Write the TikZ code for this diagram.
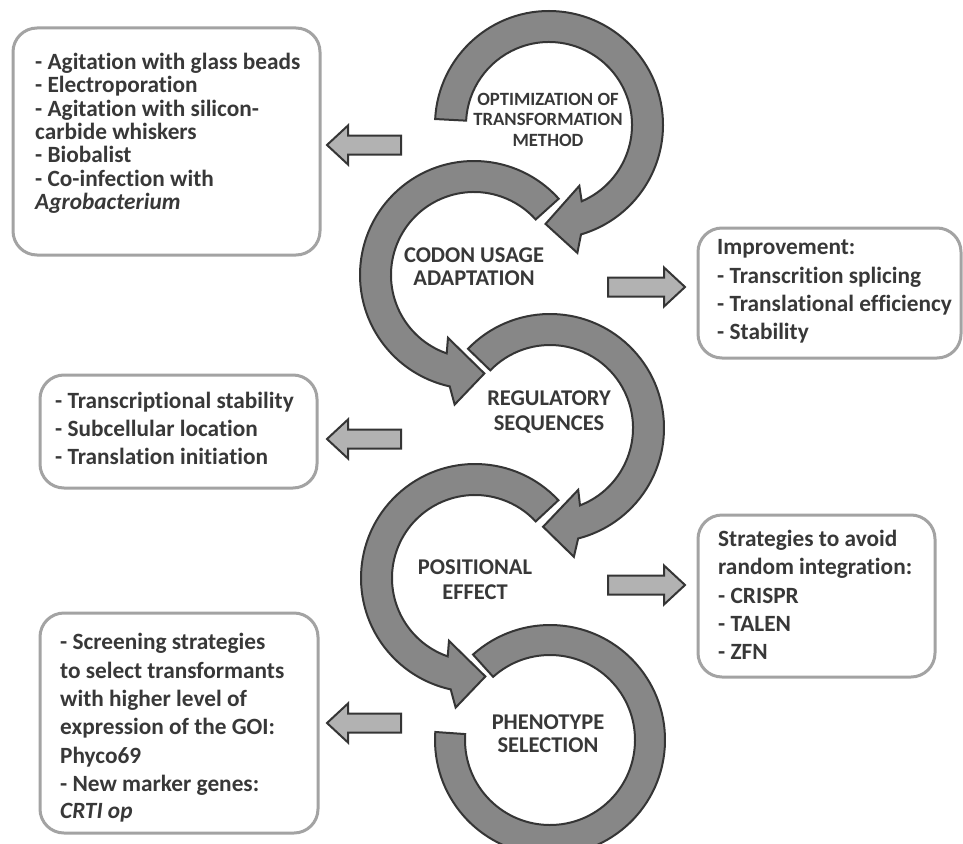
\documentclass[tikz,border=0pt]{standalone}
\usepackage{fontspec}
\setmainfont{Carlito}[RawFeature={-liga;-clig;-calt;-dlig}]
\definecolor{ringgray}{HTML}{878787}
\definecolor{arrowgray}{HTML}{B2B2B2}
\definecolor{edgegray}{HTML}{353535}
\definecolor{boxgray}{HTML}{A3A3A3}
\definecolor{textgray}{HTML}{383838}
\begin{document}
\begin{tikzpicture}[x=1pt,y=1pt,
  ringshape/.style={fill=ringgray, draw=edgegray, line width=2pt, line join=miter},
  blockarrow/.style={fill=arrowgray, draw=edgegray, line width=2pt, line join=miter},
  infobox/.style={draw=boxgray, line width=3pt, rounded corners=24pt, fill=white},
  boxtext/.style={anchor=base west, inner sep=0pt, text=textgray, font=\fontsize{23.3}{28}\selectfont\bfseries},
  ringtext/.style={anchor=base, inner sep=0pt, text=textgray, font=\fontsize{22.5}{24}\selectfont\bfseries},
  ringtextsmall/.style={anchor=base, inner sep=0pt, text=textgray, font=\fontsize{18.7}{20}\selectfont\bfseries}]
\fill[white] (0,0) rectangle (963,-843);
\useasboundingbox (0,0) rectangle (963,-843);

% ---- ring 1 (clockwise)
\begin{scope}[shift={(549,-125)}]
\draw[ringshape] (177:114) arc[start angle=177, end angle=-73.7, radius=114]
  -- (-77.5:131) -- (-92:99) -- (-63.5:68) -- (-66.8:83)
  arc[start angle=-66.8, end angle=177, radius=83] -- cycle;
\end{scope}
% ---- ring 2 (counter-clockwise)
\begin{scope}[shift={(474,-275)}]
\draw[ringshape] (42:114) arc[start angle=42, end angle=257.7, radius=114]
  -- (261.5:131) -- (276:99) -- (247.5:68) -- (250.8:83)
  arc[start angle=250.8, end angle=42, radius=83] -- cycle;
\end{scope}
% ---- ring 3 (clockwise)
\begin{scope}[shift={(550,-428)}]
\draw[ringshape] (136:114) arc[start angle=136, end angle=-75.7, radius=114]
  -- (-79.5:131) -- (-94:99) -- (-65.5:68) -- (-68.8:83)
  arc[start angle=-68.8, end angle=136, radius=83] -- cycle;
\end{scope}
% ---- ring 4 (counter-clockwise)
\begin{scope}[shift={(475,-578)}]
\draw[ringshape] (43:114) arc[start angle=43, end angle=257.7, radius=114]
  -- (261.5:131) -- (276:99) -- (247.5:68) -- (250.8:83)
  arc[start angle=250.8, end angle=43, radius=83] -- cycle;
\end{scope}
% ---- ring 5 (no head)
\begin{scope}[shift={(550,-740)}]
\draw[ringshape] (176:115) arc[start angle=176, end angle=492, radius=115]
  -- (492:85) arc[start angle=492, end angle=176, radius=85] -- cycle;
\end{scope}

% ---- ring labels
\node[ringtextsmall] (r1a) at (548,-105) {OPTIMIZATION OF};
\node[ringtextsmall] (r1b) at (548,-125) {TRANSFORMATION};
\node[ringtextsmall] (r1c) at (548,-146) {METHOD};
\node[ringtext] (r2a) at (474,-262) {CODON USAGE};
\node[ringtext] (r2b) at (474,-285) {ADAPTATION};
\node[ringtext] (r3a) at (549,-405) {REGULATORY};
\node[ringtext] (r3b) at (549,-430) {SEQUENCES};
\node[ringtext] (r4a) at (475,-574) {POSITIONAL};
\node[ringtext] (r4b) at (475,-599) {EFFECT};
\node[ringtext] (r5a) at (548,-729) {PHENOTYPE};
\node[ringtext] (r5b) at (548,-752) {SELECTION};

% ---- block arrows
\foreach \cy in {145,439,723}{
  \draw[blockarrow] (401,-\cy+9.5) -- (348,-\cy+9.5) -- (348,-\cy+19.5) -- (327,-\cy)
    -- (348,-\cy-19.5) -- (348,-\cy-9.5) -- (401,-\cy-9.5) -- cycle;
}
\foreach \cy in {287,585}{
  \draw[blockarrow] (608,-\cy+9.5) -- (664,-\cy+9.5) -- (664,-\cy+19.5) -- (685,-\cy)
    -- (664,-\cy-19.5) -- (664,-\cy-9.5) -- (608,-\cy-9.5) -- cycle;
}

% ---- boxes
\draw[infobox] (13,-28) rectangle (320,-255);
\draw[infobox] (698,-228) rectangle (961,-358);
\draw[infobox] (40,-375) rectangle (317,-488);
\draw[infobox] (698,-515) rectangle (935,-677);
\draw[infobox] (40,-613) rectangle (318,-833);

% box 1
\node[boxtext] (b1a) at (35,-69.5) {- Agitation with glass beads};
\node[boxtext] (b1b) at (35,-92.8) {- Electroporation};
\node[boxtext] (b1c) at (35,-116.1) {- Agitation with silicon-};
\node[boxtext] (b1d) at (35,-139.4) {carbide whiskers};
\node[boxtext] (b1e) at (35,-162.7) {- Biobalist};
\node[boxtext] (b1f) at (35,-186) {- Co-infection with};
\node[boxtext] (b1g) at (35,-209.3) {\itshape Agrobacterium};
% box 2
\node[boxtext] (b2a) at (717,-254.5) {Improvement:};
\node[boxtext] (b2b) at (717,-283.5) {- Transcrition splicing};
\node[boxtext] (b2c) at (717,-311.5) {- Translational efficiency};
\node[boxtext] (b2d) at (717,-339.5) {- Stability};
% box 3
\node[boxtext] (b3a) at (55,-408.5) {- Transcriptional stability};
\node[boxtext] (b3b) at (55,-436.5) {- Subcellular location};
\node[boxtext] (b3c) at (55,-464.5) {- Translation initiation};
% box 4
\node[boxtext] (b4a) at (718,-546.5) {Strategies to avoid};
\node[boxtext] (b4b) at (718,-574.5) {random integration:};
\node[boxtext] (b4c) at (718,-603.5) {- CRISPR};
\node[boxtext] (b4d) at (718,-631.5) {- TALEN};
\node[boxtext] (b4e) at (718,-659.5) {- ZFN};
% box 5
\node[boxtext] (b5a) at (60,-649.5) {- Screening strategies};
\node[boxtext] (b5b) at (60,-678.5) {to select transformants};
\node[boxtext] (b5c) at (60,-706.5) {with higher level of};
\node[boxtext] (b5d) at (60,-734.5) {expression of the GOI:};
\node[boxtext] (b5e) at (60,-763.5) {Phyco69};
\node[boxtext] (b5f) at (60,-791.5) {- New marker genes:};
\node[boxtext] (b5g) at (60,-818.5) {\itshape CRTI op};
\end{tikzpicture}
\end{document}
